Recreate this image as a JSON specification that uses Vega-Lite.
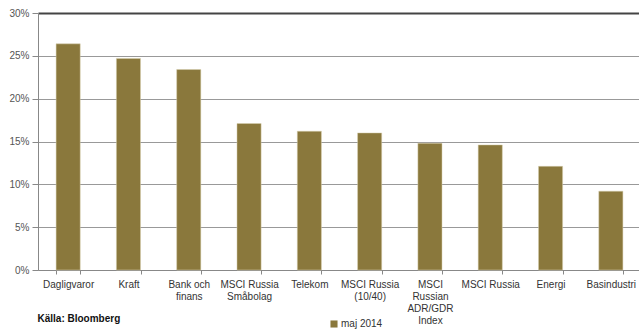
{
  "$schema": "https://vega.github.io/schema/vega-lite/v6.json",
  "width": 603,
  "height": 257,
  "autosize": {"type": "none"},
  "padding": {"left": 38, "top": 13, "right": 0, "bottom": 59},
  "background": "white",
  "config": {
    "view": {"stroke": null},
    "font": "Liberation Sans",
    "axis": {"labelFont": "Liberation Sans", "titleFont": "Liberation Sans"},
    "legend": {"labelFont": "Liberation Sans"}
  },
  "data": {
    "values": [
      {"kategori": "Dagligvaror", "varde": 0.264, "serie": "maj 2014"},
      {"kategori": "Kraft", "varde": 0.247, "serie": "maj 2014"},
      {"kategori": "Bank och\nfinans", "varde": 0.234, "serie": "maj 2014"},
      {"kategori": "MSCI Russia\nSmåbolag", "varde": 0.171, "serie": "maj 2014"},
      {"kategori": "Telekom", "varde": 0.162, "serie": "maj 2014"},
      {"kategori": "MSCI Russia\n(10/40)", "varde": 0.160, "serie": "maj 2014"},
      {"kategori": "MSCI\nRussian\nADR/GDR\nIndex", "varde": 0.148, "serie": "maj 2014"},
      {"kategori": "MSCI Russia", "varde": 0.146, "serie": "maj 2014"},
      {"kategori": "Energi", "varde": 0.121, "serie": "maj 2014"},
      {"kategori": "Basindustri", "varde": 0.092, "serie": "maj 2014"}
    ]
  },
  "mark": {"type": "bar", "stroke": "#d8d0b0", "strokeWidth": 0.5},
  "encoding": {
    "x": {
      "field": "kategori",
      "type": "nominal",
      "sort": null,
      "scale": {"paddingInner": 0.6, "paddingOuter": 0.3},
      "axis": {
        "title": "Källa: Bloomberg",
        "titleX": -1,
        "titleY": 48,
        "titleAlign": "left",
        "titleAnchor": "start",
        "titleBaseline": "middle",
        "titleFontSize": 10,
        "titleFontWeight": "bold",
        "titleColor": "#111",
        "labelExpr": "isValid(datum.value) ? split(datum.value, '\\n') : ''",
        "labelAngle": 0,
        "labelFontSize": 10,
        "labelColor": "#333",
        "labelLineHeight": 12,
        "labelPadding": 5,
        "labelBaseline": "top",
        "domainColor": "#888",
        "tickColor": "#888",
        "tickBand": "extent",
        "tickSize": 4,
        "grid": false
      }
    },
    "y": {
      "field": "varde",
      "type": "quantitative",
      "scale": {"domain": [0, 0.3], "nice": false},
      "axis": {
        "title": null,
        "format": ".0%",
        "values": [0, 0.05, 0.1, 0.15, 0.2, 0.25, 0.3],
        "labelFontSize": 10,
        "labelColor": "#555",
        "labelPadding": 3,
        "tickSize": 6,
        "tickColor": "#888",
        "domainColor": "#888",
        "gridColor": {"condition": {"test": "datum.value >= 0.3", "value": "#444"}, "value": "#999"},
        "gridWidth": {"condition": {"test": "datum.value >= 0.3", "value": 2}, "value": 1}
      }
    },
    "color": {
      "field": "serie",
      "type": "nominal",
      "scale": {"range": ["#8A783C"]},
      "legend": {
        "title": null,
        "orient": "none",
        "legendX": 291,
        "legendY": 306,
        "symbolType": "square",
        "symbolSize": 50,
        "symbolStrokeWidth": 0,
        "labelFontSize": 10,
        "labelColor": "#333",
        "labelOffset": 2
      }
    }
  }
}
